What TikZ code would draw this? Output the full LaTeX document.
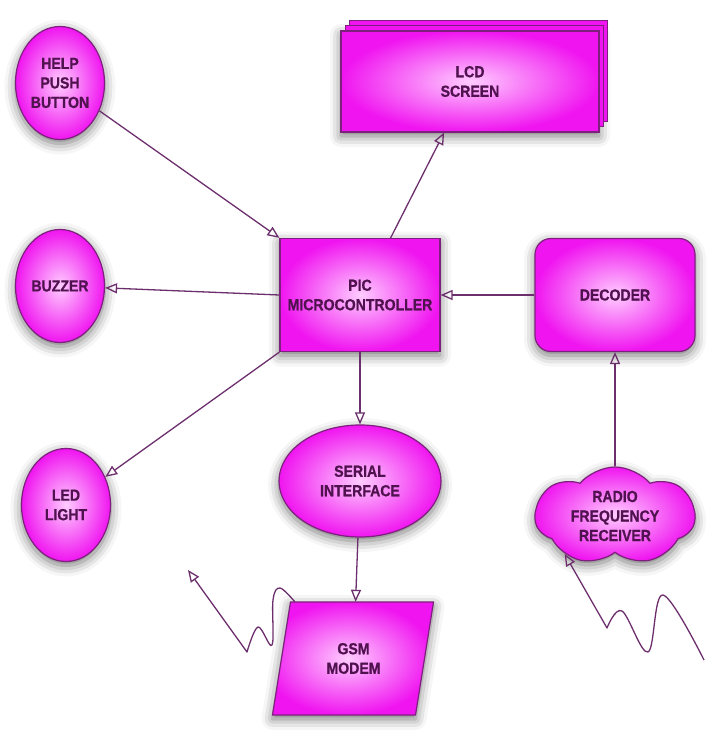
\documentclass[tikz,border=0pt]{standalone}
\usepackage{fontspec}
\setmainfont{Liberation Sans}[FakeStretch=0.88,BoldFont={Liberation Sans Bold},BoldFeatures={FakeStretch=0.88,FakeBold=0.8}]
\usetikzlibrary{shapes.geometric,shapes.symbols,shadows,shadows.blur,arrows.meta,calc}
\definecolor{blobFill}{HTML}{F015F0}
\definecolor{blobCore}{HTML}{FFCCFF}
\definecolor{blobEdge}{HTML}{7E1F7E}
\definecolor{blobText}{HTML}{50124E}
\definecolor{wireColour}{HTML}{6C2E6C}

\begin{document}
\begin{tikzpicture}
[x=1pt,y=-1pt,
  shapeDecorate/.style={draw=blobEdge,line width=1.2pt,inner sep=0pt,align=center,%
    text=blobText,font=\bfseries\fontsize{16}{19.5}\selectfont,%
    shading=radial,inner color=blobCore,outer color=blobFill,%
    blur shadow={shadow xshift=0pt,shadow yshift=-4pt,shadow blur radius=11pt,shadow opacity=55}},%
  nodeDecorate/.style={shapeDecorate,ellipse},%
  boxDecorate/.style={shapeDecorate,rectangle,minimum width=160pt,minimum height=113pt},%
  stackDecorate/.style={copy shadow={shadow xshift=#1,shadow yshift=1.375*#1,fill=blobFill,draw=blobEdge,line width=0.9pt}},%
  lineDecorate/.style={draw=wireColour,line width=1.3pt,-{Triangle[open,length=12pt,width=10pt]}},%
  waveDecorate/.style={lineDecorate,line join=round}]
\useasboundingbox (0,0) rectangle (719,735);
%% round parts on the left
\foreach \nodename/\x/\y/\nodetext in {help/60/83/{HELP\\PUSH\\BUTTON}, buzzer/60/286/BUZZER, led/66/505/{LED\\LIGHT}}
{
  \node (\nodename) at (\x,\y) [nodeDecorate,minimum width=89pt,minimum height=113pt] {\nodetext};
}
%% boxes
\node (pic) at (360,295) [boxDecorate] {PIC\\MICROCONTROLLER};
\node (decoder) at (615,295) [boxDecorate,rounded corners=16pt] {DECODER};
\node (lcd) at (470,81.5) [boxDecorate,stackDecorate=8pt,stackDecorate=4pt,minimum width=258pt,minimum height=101pt] {LCD\\SCREEN};
\node (serial) at (360,481) [nodeDecorate,minimum width=162pt,minimum height=112pt] {SERIAL\\INTERFACE};
%% slanted modem box
\path[shapeDecorate] (262.5,602) ++(28,0) -- ++(143,0) -- ++(-18,113) -- ++(-143,0) -- cycle;
\node (gsm) at (353.5,658.5) [inner sep=0pt,minimum width=143pt,minimum height=113pt,align=center,%
  text=blobText,font=\bfseries\fontsize{16}{19.5}\selectfont] {GSM\\MODEM};
\node (rf) at (615,516) [shapeDecorate,cloud,cloud puffs=7,cloud puff arc=100,aspect=1.6,%
  minimum width=160pt,minimum height=98pt] {RADIO\\FREQUENCY\\RECEIVER};
%% links
\path
\foreach \startnode/\endnode in {help/pic.north west, pic.west/buzzer, pic.south west/led, pic/serial, serial/gsm, decoder/pic, rf/decoder}
{
  (\startnode) edge[lineDecorate] (\endnode)
};
\draw[lineDecorate] ($(pic.north west)!0.69!(pic.north east)$) -- ($(lcd.south west)!0.4!(lcd.south east)$);
%% aerials
\coordinate (gsmAir) at (188,570);
\coordinate (rfAir) at (704,660);
\draw[waveDecorate] plot[smooth,tension=0.6] coordinates {($(gsm.north west)+(13,0)$) (280,588) (273,600) (272,645) (258,627) (247,652)} -- (gsmAir);
\draw[waveDecorate] plot[smooth,tension=0.6] coordinates {(rfAir) (663,595) (648,652) (622,611) (607,628)} -- (rf.217);
\end{tikzpicture}
\end{document}
